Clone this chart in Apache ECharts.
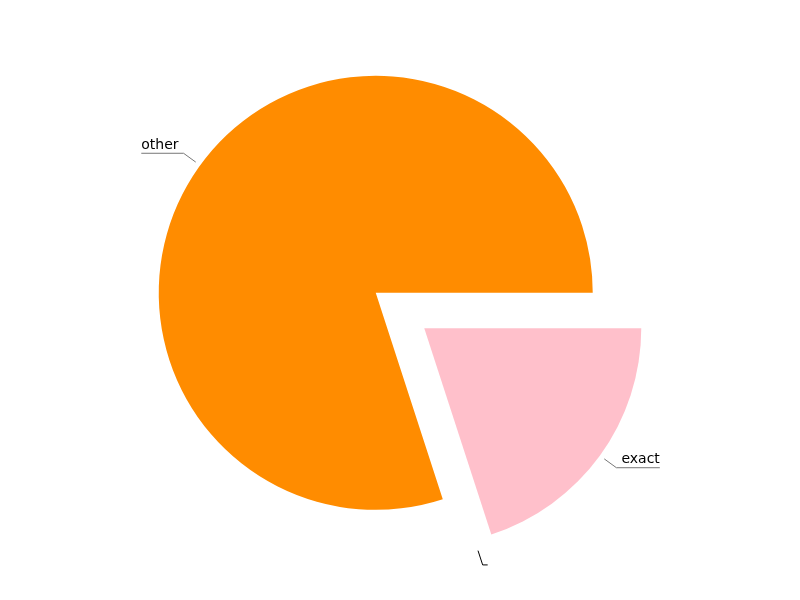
<!DOCTYPE html>
<html>
<head>
<meta charset="utf-8">
<script src="https://cdn.jsdelivr.net/npm/echarts@6/dist/echarts.min.js"></script>
<style>html,body{margin:0;padding:0;background:#fff}#c{width:800px;height:600px}</style>
</head>
<body>
<div id="c"></div>
<script>
const categories = ['exact', '', 'other'];
const values = [20, 0, 80];
const colors = ['#ffc0cb', '#000000', '#ff8c00'];
const lineColors = ['#777777', '#000000', '#777777'];

const chart = echarts.init(document.getElementById('c'));
chart.setOption({
  animation: false,
  series: [{
    type: 'pie',
    center: [400, 310.5],
    radius: [0, 217],
    startAngle: 0,
    clockwise: true,
    selectedMode: 'multiple',
    selectedOffset: 30,
    avoidLabelOverlap: false,
    label: {
      formatter: '{b}\n',
      fontSize: 14,
      lineHeight: 16,
      color: '#000',
      fontFamily: 'DejaVu Sans'
    },
    labelLine: { length: 20.5, length2: 0, lineStyle: { width: 1 } },
    labelLayout: function (params) {
      const isLeft = params.labelRect.x < 400;
      const points = params.labelLinePoints;
      if (points) {
        const dx = points[1][0] - points[0][0];
        const dy = points[1][1] - points[0][1];
        const len = Math.sqrt(dx * dx + dy * dy) || 1;
        points[0][0] += dx / len * 5.5;
        points[0][1] += dy / len * 5.5;
        points[2][0] = isLeft ? params.labelRect.x : params.labelRect.x + params.labelRect.width;
      }
      return { labelLinePoints: points };
    },
    emphasis: { disabled: true },
    data: categories.map((n, i) => ({
      name: n,
      value: values[i],
      selected: true,
      itemStyle: { color: colors[i] },
      labelLine: { lineStyle: { color: lineColors[i] } }
    }))
  }]
});
</script>
</body>
</html>
